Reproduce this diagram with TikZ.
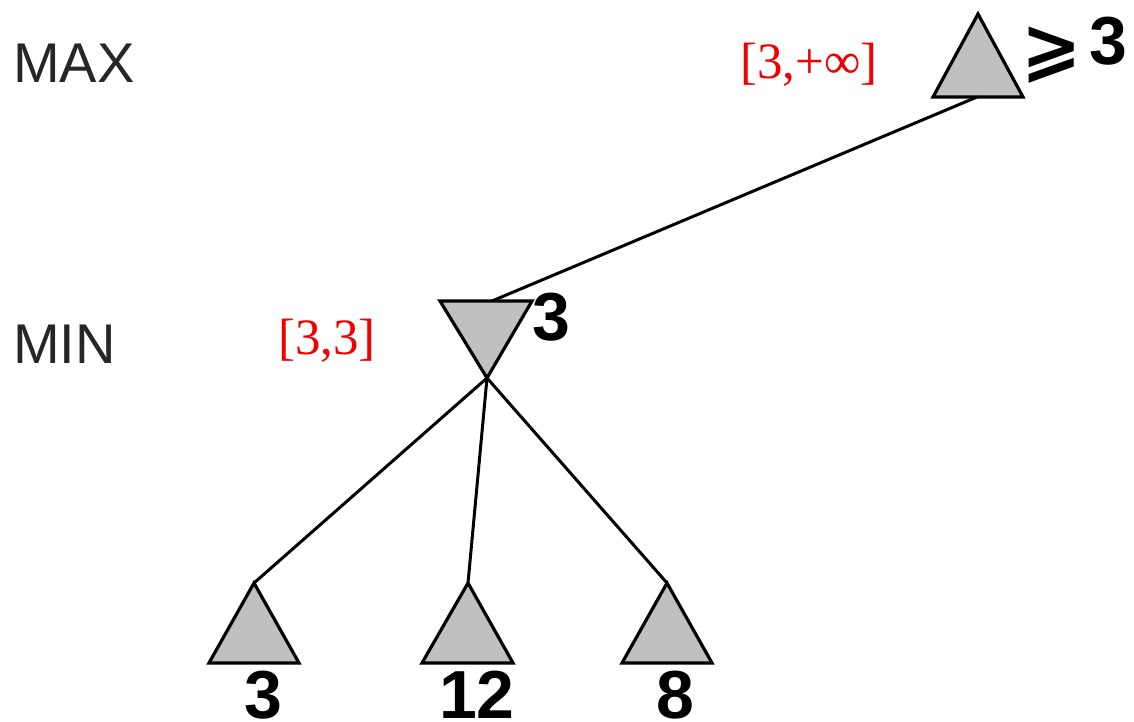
\documentclass[tikz,border=0pt]{standalone}
\usepackage{fontspec}
\setmainfont{Liberation Sans}
\newfontfamily\serifred{Liberation Serif}
\newfontfamily\symfont{DejaVu Sans}
\definecolor{trifill}{RGB}{192,192,192}
\definecolor{lblred}{RGB}{240,0,0}
\tikzset{
  tri/.style={draw=black, fill=trifill, line width=3.2pt, line join=miter},
  edge/.style={draw=black, line width=3pt},
  level/.style={inner sep=0pt, anchor=base west, font=\fontsize{56}{56}\selectfont, text=black!85},
  val/.style={inner sep=0pt, anchor=base, font=\fontsize{68}{68}\selectfont\bfseries},
  bound/.style={inner sep=0pt, anchor=base west, text=lblred, font=\serifred\fontsize{51}{51}\selectfont}
}
\begin{document}
\begin{tikzpicture}[x=1pt,y=-1pt]
\useasboundingbox (0,0) rectangle (1134,722);
% level labels
\node[level] (maxlbl) at (13,83) {MAX};
\node[level] (minlbl) at (13,363) {MIN};
% red bounds
\node[bound] (bmax) at (740,79) {[3,+∞]};
\node[bound] (bmin) at (278,354) {[3,3]};
% MAX node triangle
\coordinate (maxA) at (978,14);
\coordinate (maxB) at (977,97);
\filldraw[tri] (maxA) -- (1023,97) -- (933,97) -- cycle;
% MIN node triangle
\coordinate (minT) at (492,301);
\coordinate (minA) at (487,378);
\filldraw[tri] (440,301) -- (532,301) -- (minA) -- cycle;
% leaves
\coordinate (l1) at (254,583);
\coordinate (l2) at (468,583);
\coordinate (l3) at (667,583);
\filldraw[tri] (l1) -- (299,663) -- (209,663) -- cycle;
\filldraw[tri] (l2) -- (513,663) -- (422,663) -- cycle;
\filldraw[tri] (l3) -- (712,663) -- (622,663) -- cycle;
% connectors
\draw[edge] (maxB) -- (minT);
\draw[edge] (minA) -- (l1);
\draw[edge] (minA) -- (l2);
\draw[edge] (minA) -- (l3);
% values
\node[inner sep=0pt, font=\symfont\bfseries\fontsize{72}{72}\selectfont] (geq) at (1052,55) {⩾};
\node[val] (vmax) at (1108,65) {3};
\node[val] (vmin) at (551,340) {3};
\node[val] (v1) at (263,718) {3};
\node[val] (v2) at (477,718) {12};
\node[val] (v3) at (675,718) {8};
\end{tikzpicture}
\end{document}
